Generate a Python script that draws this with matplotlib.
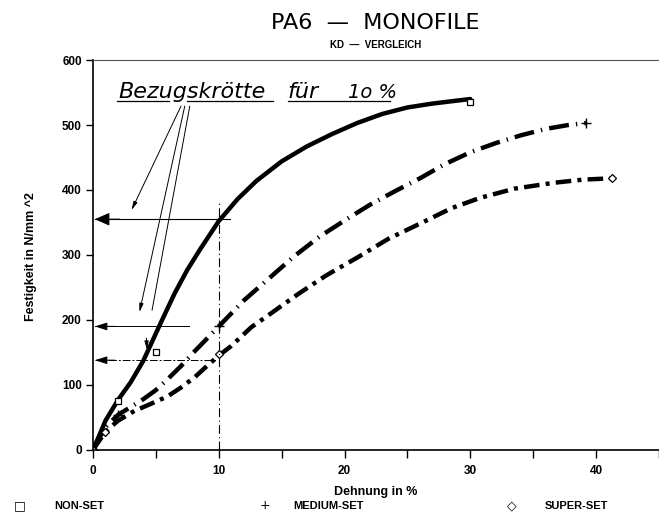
import matplotlib
matplotlib.use("Agg")
import matplotlib.pyplot as plt

# Dehnung (%) / Festigkeit (N/mm^2)
non_x = [0, 0.5, 1, 2, 3, 4, 4.5, 5.5, 6.5, 7.5, 8.5, 10, 11.5, 13, 15, 17, 19, 21, 23, 25, 27, 30]
non_y = [0, 22, 45, 77, 104, 137, 158, 200, 241, 277, 308, 352, 386, 414, 444, 467, 486, 503, 517, 527, 533, 540]
med_x = [0, 0.5, 1, 2, 3, 4, 5, 6, 7, 8, 9, 10, 12, 14, 16, 18, 20, 22, 24, 26, 28, 30, 32, 34, 36, 37.8, 39.2]
med_y = [0, 18, 35, 54, 66, 78, 92, 110, 129, 150, 170, 190, 230, 264, 298, 328, 353, 377, 398, 418, 440, 458, 472, 484, 494, 500, 503]
sup_x = [0, 1, 2, 3.3, 4.5, 5.9, 7, 8.1, 9, 10, 11, 12.6, 14, 16.4, 18.5, 21.1, 23.5, 26.3, 28.5, 30.8, 33.5, 36.6, 39, 41.3]
sup_y = [0, 28, 45, 60, 70, 82, 96, 112, 128, 145, 160, 189, 208, 241, 268, 297, 325, 351, 372, 388, 402, 411, 416, 418]

# measured points carrying the symbols
non_mx = [0, 2, 5, 30]
non_my = [0, 75, 150, 535]
med_mx = [0, 2, 10, 39.2]
med_my = [0, 54, 190, 503]
sup_mx = [0, 1, 10, 41.3]
sup_my = [0, 28, 147, 418]

# reference forces at 10 %
ref_levels = [355, 190, 138]
ref_ends = [10.9, 7.6, 9.9]

x_ticks = [0, 5, 10, 15, 20, 25, 30, 35, 40, 45]
x_labels = ["0", "", "10", "", "20", "", "30", "", "40", ""]
y_ticks = [0, 100, 200, 300, 400, 500, 600]

bold = {"family": "Liberation Sans", "weight": "bold"}

fig = plt.figure(figsize=(6.59, 5.13), dpi=100)
ax = fig.add_axes([0.141, 0.123, 0.859, 0.76])

ax.plot(non_x, non_y, color="black", lw=3.2, solid_capstyle="round")
ax.plot(med_x, med_y, color="black", lw=3.2, dashes=(4.5, 1.6, 0.3, 1.6))
ax.plot(sup_x, sup_y, color="black", lw=3.2, dashes=(3.5, 1.4, 0.9, 1.4))
ax.plot(non_mx, non_my, ls="none", marker="s", ms=5, mfc="white", mec="black", mew=0.9)
ax.plot(med_mx, med_my, ls="none", marker="+", ms=7, color="black", mew=1.0)
ax.plot(sup_mx, sup_my, ls="none", marker="D", ms=4, mfc="white", mec="black", mew=0.9)

# 10 % guide and reference arrows
ax.plot([10, 10], [0, 385], color="black", lw=0.8, dashes=(8, 3, 1, 3))
ax.plot([0.2, ref_ends[0]], [ref_levels[0]] * 2, color="black", lw=0.8)
ax.plot([0.2, ref_ends[1]], [ref_levels[1]] * 2, color="black", lw=0.7)
ax.plot([0.2, ref_ends[2]], [ref_levels[2]] * 2, color="black", lw=0.7, dashes=(8, 2, 2, 2))
for lev, hw, hl in zip(ref_levels, [16, 9, 9], [2.0, 1.6, 1.6]):
    ax.annotate("", xy=(0.15, lev), xytext=(hl + 0.15, lev),
                arrowprops=dict(arrowstyle="-|>,head_width=%.2f,head_length=%.2f" % (hw / 40, hl / 2.2),
                                color="black", lw=0.8, shrinkA=0, shrinkB=0))

# handwritten note
note = [(2.0, "Bezugskrötte", 16), (15.5, "für", 16), (20.3, "1o %", 14)]
for nx, word, fs in note:
    ax.text(nx, 542, word, fontsize=fs, style="italic", family="DejaVu Sans", fontweight="light")
for x0, x1 in [(1.95, 6.06), (7.5, 14.3), (15.5, 23.6)]:
    ax.plot([x0, x1], [537, 537], color="black", lw=0.9)

leaders = [((7.0, 529), (3.07, 369), True),
           ((7.3, 529), (3.7, 212), True),
           ((7.7, 529), (4.7, 215), False),
           ((4.25, 172), (4.3, 154), True)]
for start, end, head in leaders:
    ax.annotate("", xy=end, xytext=start,
                arrowprops=dict(arrowstyle="-|>,head_width=0.12,head_length=0.5" if head else "-",
                                color="black", lw=0.7, shrinkA=0, shrinkB=0))

ax.set_xlim(0, 44.6)
ax.set_ylim(0, 600)
ax.set_xticks(x_ticks)
ax.set_xticklabels(x_labels, fontdict=bold, fontsize=8.5)
ax.set_yticks(y_ticks)
ax.set_yticklabels([str(v) for v in y_ticks], fontdict=bold, fontsize=8.5)
ax.tick_params(axis="x", length=6, width=1.0, pad=5)
ax.tick_params(axis="y", length=5, width=1.0, pad=3)
ax.spines["right"].set_visible(False)
ax.spines["top"].set_color("#555555")
ax.spines["top"].set_linewidth(0.8)
ax.spines["left"].set_linewidth(1.2)
ax.spines["bottom"].set_linewidth(1.2)

fig.text(0.57, 0.955, "PA6  —  MONOFILE", ha="center", va="center", fontsize=16, family="DejaVu Sans")
fig.text(0.57, 0.912, "KD  —  VERGLEICH", ha="center", va="center", fontsize=7, **bold)
fig.text(0.57, 0.040, "Dehnung in %", ha="center", va="center", fontsize=9, **bold)
fig.text(0.047, 0.50, "Festigkeit in N/mm ^2", ha="center", va="center", rotation=90, fontsize=9, **bold)

legend_row = [(0.030, "□", 0.083, "NON-SET"),
              (0.402, "+", 0.445, "MEDIUM-SET"),
              (0.776, "◇", 0.827, "SUPER-SET")]
for sx, sym, tx, label in legend_row:
    fig.text(sx, 0.014, sym, ha="center", va="center", fontsize=9, family="DejaVu Sans")
    fig.text(tx, 0.014, label, ha="left", va="center", fontsize=8, **bold)

fig.savefig("out.png", dpi=100)
